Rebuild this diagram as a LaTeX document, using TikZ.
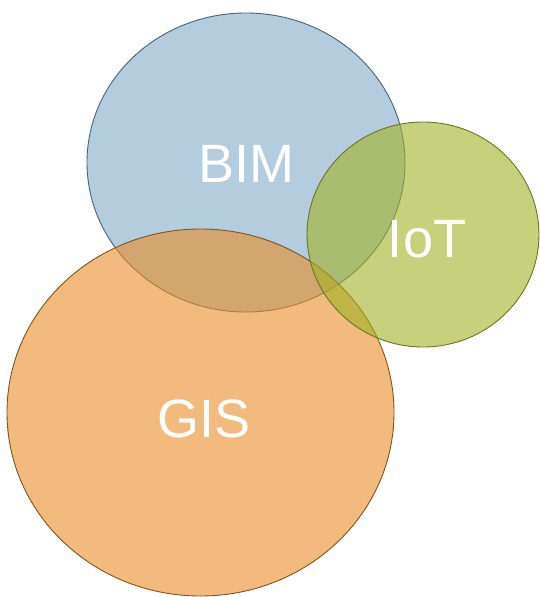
\documentclass[tikz,border=0pt]{standalone}
\usepackage{fontspec}
\setmainfont{Liberation Sans}
\usetikzlibrary{shapes.geometric}
\definecolor{bimfill}{RGB}{128,170,200}
\definecolor{bimline}{RGB}{70,100,125}
\definecolor{gisfill}{RGB}{233,140,37}
\definecolor{gisline}{RGB}{125,85,30}
\definecolor{iotfill}{RGB}{162,178,37}
\definecolor{iotline}{RGB}{105,120,30}
\tikzset{
  setcircle/.style={ellipse, inner sep=0pt, line width=0.9pt, fill opacity=0.6},
  setlabel/.style={text=white, font=\fontsize{54}{54}\selectfont, anchor=base, inner sep=0pt}
}
\begin{document}
\begin{tikzpicture}[x=1pt, y=-1pt]
  \useasboundingbox (0,0) rectangle (540,597);
  \node[setcircle, draw=bimline, fill=bimfill, minimum width=318pt, minimum height=299pt] (bim) at (246,162.5) {};
  \node[setcircle, draw=gisline, fill=gisfill, minimum width=387pt, minimum height=367pt] (gis) at (200.5,412.5) {};
  \node[setcircle, draw=iotline, fill=iotfill, minimum width=232pt, minimum height=225pt] (iot) at (423,234.5) {};
  \node[setlabel] (bimtext) at (246,182) {BIM};
  \node[setlabel] (iottext) at (427,257) {IoT};
  \node[setlabel] (gistext) at (204,437) {GIS};
\end{tikzpicture}
\end{document}
